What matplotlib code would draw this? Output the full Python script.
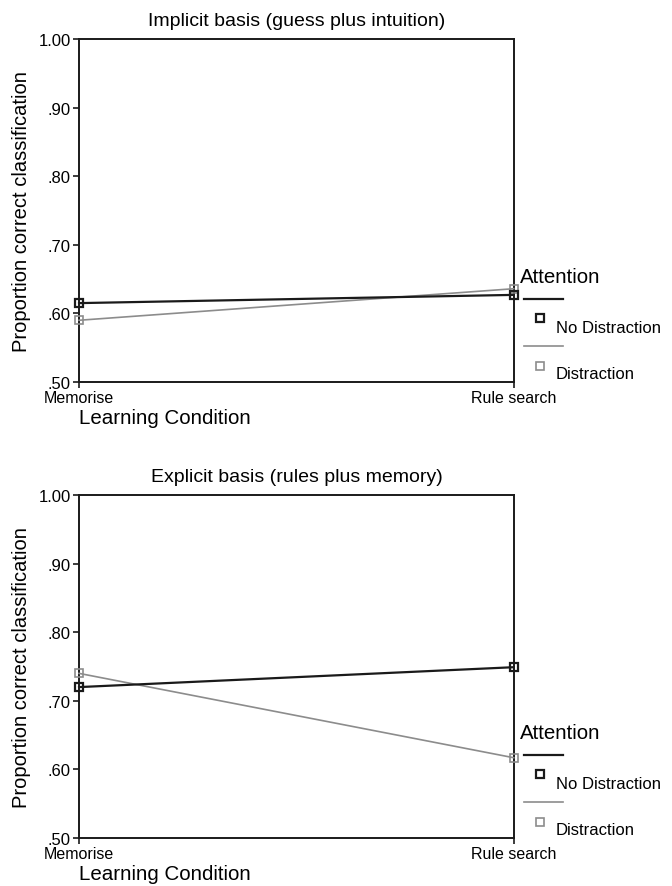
import matplotlib
matplotlib.use("Agg")
import matplotlib.pyplot as plt
from matplotlib.lines import Line2D

plt.rcParams['font.family'] = ['Liberation Sans', 'DejaVu Sans']

# data
conditions = ["Memorise", "Rule search"]
implicit_no_distr = [0.615, 0.627]
implicit_distr = [0.590, 0.636]
explicit_no_distr = [0.720, 0.749]
explicit_distr = [0.740, 0.617]
yticks = [0.50, 0.60, 0.70, 0.80, 0.90, 1.00]
yticklabels = [".50", ".60", ".70", ".80", ".90", "1.00"]

dark = "#1a1a1a"
grey = "#8c8c8c"

fig = plt.figure(figsize=(6.72, 8.87), dpi=100)
ax1 = fig.add_axes([0.1176, 0.5682, 0.647, 0.3867])
ax2 = fig.add_axes([0.1176, 0.0541, 0.647, 0.3867])


def draw_panel(ax, title, nd, d):
    x = range(len(conditions))
    ax.plot(x, d, color=grey, lw=1.2, marker="s", ms=6, mfc="none",
            mec=grey, mew=1.2, clip_on=False, zorder=3)
    ax.plot(x, nd, color=dark, lw=1.6, marker="s", ms=6, mfc="none",
            mec=dark, mew=1.6, clip_on=False, zorder=4)
    ax.set_xlim(0, 1)
    ax.set_ylim(0.5, 1.0)
    ax.set_xticks(list(x))
    ax.set_xticklabels(conditions, fontsize=11.5)
    ax.set_yticks(yticks)
    ax.set_yticklabels(yticklabels, fontsize=12)
    ax.tick_params(axis="both", direction="out", length=4, width=1.2,
                   color=dark, pad=2)
    for s in ax.spines.values():
        s.set_linewidth(1.4)
        s.set_color(dark)
    ax.set_title(title, fontsize=14, pad=10)
    ax.set_xlabel("Learning Condition", fontsize=14.8, loc="left", labelpad=2)
    ax.set_ylabel("Proportion correct classification", fontsize=14.5,
                  labelpad=5)

    # SPSS style legend, laid out beside the panel
    tr = ax.transAxes
    ax.text(1.014, 0.309, "Attention", transform=tr, fontsize=14.8,
            va="center", ha="left")
    ax.add_line(Line2D([1.023, 1.113], [0.242, 0.242], transform=tr,
                       color=dark, lw=1.6, clip_on=False))
    ax.add_line(Line2D([1.060], [0.187], transform=tr, marker="s", ms=6,
                       mfc="none", mec=dark, mew=1.6, lw=0, clip_on=False))
    ax.text(1.097, 0.160, "No Distraction", transform=tr, fontsize=12,
            va="center", ha="left")
    ax.add_line(Line2D([1.023, 1.113], [0.105, 0.105], transform=tr,
                       color=grey, lw=1.2, clip_on=False))
    ax.add_line(Line2D([1.060], [0.047], transform=tr, marker="s", ms=6,
                       mfc="none", mec=grey, mew=1.2, lw=0, clip_on=False))
    ax.text(1.097, 0.026, "Distraction", transform=tr, fontsize=12,
            va="center", ha="left")


draw_panel(ax1, "Implicit basis (guess plus intuition)",
           implicit_no_distr, implicit_distr)
draw_panel(ax2, "Explicit basis (rules plus memory)",
           explicit_no_distr, explicit_distr)

fig.savefig("out.png", dpi=100)
